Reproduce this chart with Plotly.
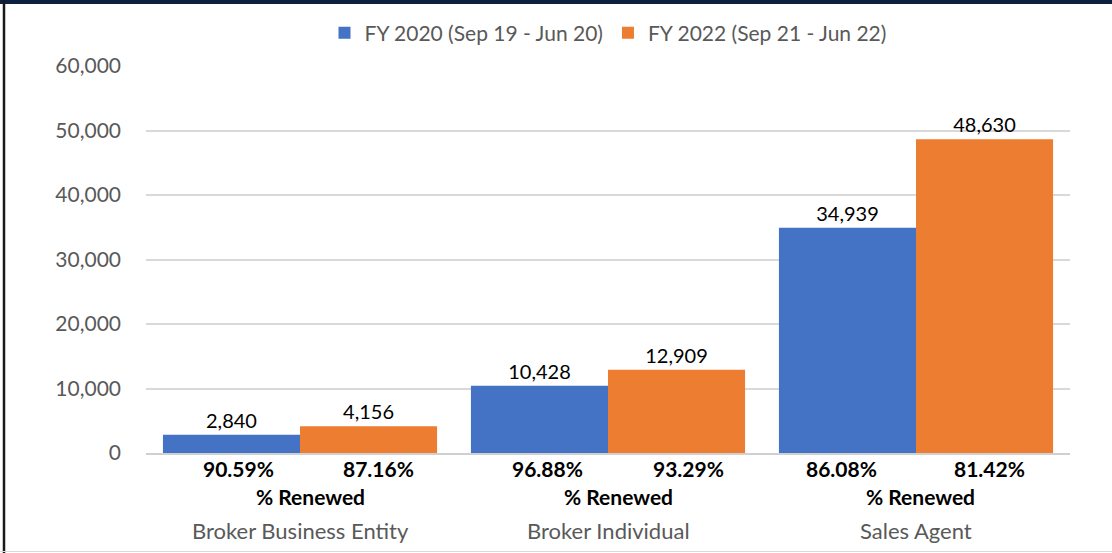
import plotly.graph_objects as go

categories = ["Broker Business Entity", "Broker Individual", "Sales Agent"]
series_names = ["FY 2020 (Sep 19 - Jun 20)", "FY 2022 (Sep 21 - Jun 22)"]
fy2020 = [2840, 10428, 34939]
fy2022 = [4156, 12909, 48630]
renewed_2020 = ["90.59%", "96.88%", "86.08%"]
renewed_2022 = ["87.16%", "93.29%", "81.42%"]
renewed_label = "% Renewed"
y_ticks = [0, 10000, 20000, 30000, 40000, 50000, 60000]

colors = ["#4472C4", "#ED7D31"]
FONT = "Lato, Calibri, sans-serif"
FS = 20

W, H = 1112, 553
L, R, T, B = 146, 42, 66, 100
pw, ph = W - L - R, H - T - B
bargap = 0.11

fig = go.Figure()
for name, vals, col in zip(series_names, [fy2020, fy2022], colors):
    fig.add_trace(go.Bar(
        x=categories, y=vals, name=name, marker_color=col,
        marker_line_width=0,
        text=[f"{v:,}" for v in vals], textposition="outside",
        textfont=dict(family=FONT, size=FS, color="#000000"),
        cliponaxis=False,
    ))

ann = []
off = (1 - bargap) / 4
pct_shift = [(7, 10), (8, 12), (-6, 5)]
lbl_shift = [10, 10, 4]
for i, cat in enumerate(categories):
    for dx, txt, sh in [(-off, renewed_2020[i], pct_shift[i][0]), (off, renewed_2022[i], pct_shift[i][1])]:
        ann.append(dict(x=i + dx, y=0, xref="x", yref="paper", yanchor="middle",
                        yshift=-15, xshift=sh, text=f"<b>{txt}</b>", showarrow=False,
                        font=dict(family=FONT, size=21, color="#000000")))
    ann.append(dict(x=i, y=0, xref="x", yref="paper", yanchor="middle",
                    yshift=-43, xshift=lbl_shift[i], text=f"<b>{renewed_label}</b>", showarrow=False,
                    font=dict(family=FONT, size=21, color="#000000")))
    ann.append(dict(x=i, y=0, xref="x", yref="paper", yanchor="middle",
                    yshift=-77, text=cat, showarrow=False,
                    font=dict(family=FONT, size=22, color="#595959")))

def px_x(p):
    return (p - L) / pw

def px_y(p):
    return (H - B - p) / ph

shapes = [
    dict(type="line", xref="paper", yref="paper", x0=px_x(0), x1=px_x(W), y0=px_y(2), y1=px_y(2),
         line=dict(color="#0E1F40", width=4)),
    dict(type="line", xref="paper", yref="paper", x0=px_x(4), x1=px_x(4), y0=px_y(0), y1=px_y(H),
         line=dict(color="#1A1A1A", width=2.5)),
    dict(type="line", xref="paper", yref="paper", x0=px_x(0), x1=px_x(W), y0=px_y(551.5), y1=px_y(551.5),
         line=dict(color="#D9D9D9", width=1)),
]

fig.update_layout(
    width=W, height=H,
    margin=dict(l=L, r=R, t=T, b=B, autoexpand=False),
    paper_bgcolor="white", plot_bgcolor="white",
    barmode="group", bargap=bargap, bargroupgap=0,
    font=dict(family=FONT, size=FS, color="#595959"),
    legend=dict(orientation="h", x=0.5, xanchor="center", y=px_y(33), yanchor="middle",
                font=dict(family=FONT, size=21, color="#595959"), itemwidth=30,
                traceorder="normal"),
    xaxis=dict(showticklabels=False, showgrid=False, showline=True, linecolor="#D0D0D0",
               linewidth=2, ticks="", range=[-0.5, 2.5]),
    yaxis=dict(range=[0, 60000], tickvals=y_ticks, ticktext=[f"{v:,}" for v in y_ticks],
               showgrid=True, gridcolor="#D9D9D9", gridwidth=1.5, zeroline=False,
               showline=False, ticks="", ticklabelstandoff=24,
               tickfont=dict(family=FONT, size=21, color="#595959")),
    annotations=ann, shapes=shapes, showlegend=True,
)

fig.write_html("out.html", config={"displayModeBar": False},
               post_script="document.body.style.margin='0';document.body.style.overflow='hidden';")
